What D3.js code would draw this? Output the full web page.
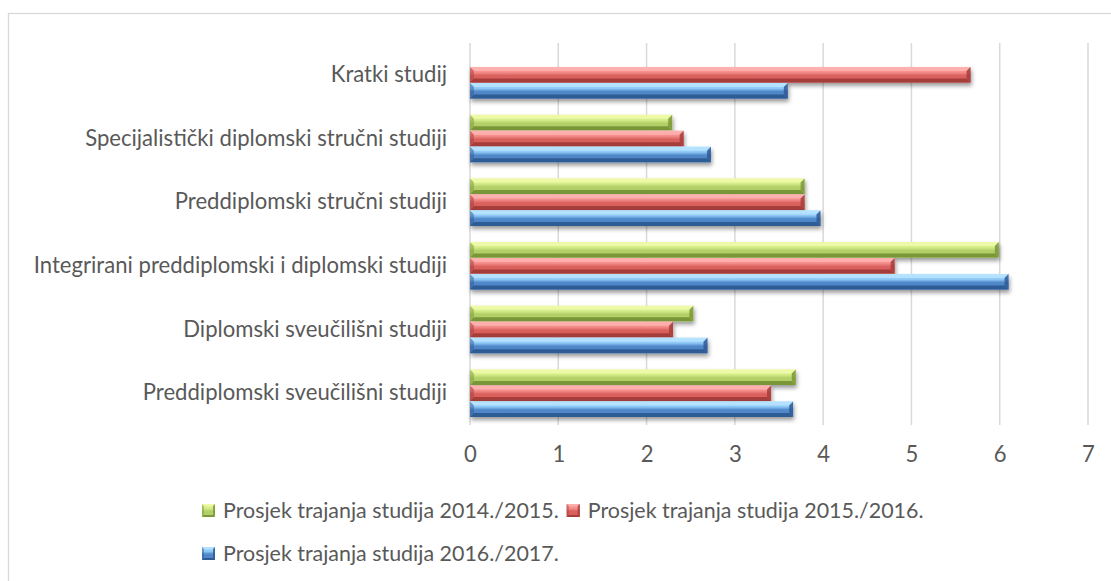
<!DOCTYPE html>
<html>
<head>
<meta charset="utf-8">
<script src="https://cdn.jsdelivr.net/npm/d3@7"></script>
<style>
  html, body { margin: 0; padding: 0; background: #fff; }
  svg { display: block; }
  text { font-family: Lato, "Open Sans", sans-serif; fill: #595959; }
</style>
</head>
<body>
<div id="chart"></div>
<script>
const CATEGORIES = [
  'Kratki studij',
  'Specijalistički diplomski stručni studiji',
  'Preddiplomski stručni studiji',
  'Integrirani preddiplomski i diplomski studiji',
  'Diplomski sveučilišni studiji',
  'Preddiplomski sveučilišni studiji'
];

const SERIES = [
  'Prosjek trajanja studija 2014./2015.',
  'Prosjek trajanja studija 2015./2016.',
  'Prosjek trajanja studija 2016./2017.'
];

// one value per category, same order as CATEGORIES
const VALUES_2014 = [null, 2.29, 3.79, 5.99, 2.53, 3.69];
const VALUES_2015 = [5.67, 2.42, 3.79, 4.81, 2.30, 3.41];
const VALUES_2016 = [3.60, 2.73, 3.97, 6.10, 2.69, 3.66];

const X_TICKS = [0, 1, 2, 3, 4, 5, 6, 7];

const COLORS = [
  { light: '#eefaa8', mid: '#b3cf68', dark: '#7a9739', edge: '#d2eb86' },
  { light: '#ffb0ae', mid: '#d9605d', dark: '#a53d3b', edge: '#f28a88' },
  { light: '#b5e2ff', mid: '#4f87c8', dark: '#2f5b94', edge: '#8cc6f5' }
];

const W = 1111, H = 581;
const plot = { left: 470, right: 1088, top: 43, bottom: 425 };
const FONT = 'Lato, "Open Sans", sans-serif';

const svg = d3.select('#chart').append('svg').attr('width', W).attr('height', H);
const defs = svg.append('defs');

const shadow = defs.append('filter').attr('id', 'shadow')
  .attr('x', '-5%').attr('y', '-40%').attr('width', '110%').attr('height', '200%');
shadow.append('feDropShadow').attr('dx', 1).attr('dy', 3).attr('stdDeviation', 2.2)
  .attr('flood-color', '#000').attr('flood-opacity', 0.4);

COLORS.forEach((c, i) => {
  const g = defs.append('linearGradient').attr('id', 'grad' + i)
    .attr('x1', 0).attr('y1', 0).attr('x2', 0).attr('y2', 1);
  g.append('stop').attr('offset', '0%').attr('stop-color', c.light);
  g.append('stop').attr('offset', '35%').attr('stop-color', c.edge);
  g.append('stop').attr('offset', '55%').attr('stop-color', c.mid);
  g.append('stop').attr('offset', '100%').attr('stop-color', c.mid);
});

// fit the font so the longest category label keeps its width
const probe = svg.append('text').attr('font-size', 20).text(CATEGORIES[1]);
const fontSize = 20 * 362 / probe.node().getComputedTextLength();
probe.remove();

// chart border
svg.append('rect')
  .attr('x', 8.5).attr('y', 13.5).attr('width', W + 10).attr('height', H + 10)
  .attr('fill', 'none').attr('stroke', '#d9d9d9').attr('stroke-width', 1.3);

const x = d3.scaleLinear().domain([0, 7]).range([plot.left, plot.right]);
const y = d3.scaleBand().domain(CATEGORIES).range([plot.top, plot.bottom])
  .paddingInner(0.24).paddingOuter(0.12);
const ys = d3.scaleBand().domain(d3.range(SERIES.length)).range([0, y.bandwidth()]).padding(0.03);

// gridlines
svg.append('g').selectAll('line').data(X_TICKS).enter().append('line')
  .attr('x1', d => x(d)).attr('x2', d => x(d))
  .attr('y1', plot.top).attr('y2', plot.bottom)
  .attr('stroke', '#d9d9d9').attr('stroke-width', 1.5);

// x axis labels
const xAxis = svg.append('g').attr('transform', `translate(0,${plot.bottom})`)
  .call(d3.axisBottom(x).tickValues(X_TICKS).tickSize(0).tickPadding(21).tickFormat(d3.format('d')));
xAxis.select('.domain').remove();
xAxis.selectAll('text').attr('font-size', fontSize).attr('fill', '#595959').attr('font-family', FONT);

// y axis labels
const yAxis = svg.append('g').attr('transform', `translate(${plot.left},0)`)
  .call(d3.axisLeft(y).tickSize(0).tickPadding(23));
yAxis.select('.domain').remove();
yAxis.selectAll('text').attr('font-size', fontSize).attr('fill', '#595959').attr('font-family', FONT);

// bars
const seriesValues = [VALUES_2014, VALUES_2015, VALUES_2016];
const barData = [];
CATEGORIES.forEach((cat, ci) => {
  seriesValues.forEach((vals, si) => {
    if (vals[ci] != null) barData.push({ cat, si, value: vals[ci] });
  });
});

function drawBevelBar(g, x0, y0, x1, h, c, fillId, b) {
  const y1 = y0 + h;
  g.append('rect').attr('x', x0).attr('y', y0).attr('width', x1 - x0).attr('height', h)
    .attr('fill', `url(#${fillId})`);
  g.append('polygon')
    .attr('points', [[x0, y0], [x1, y0], [x1 - b, y0 + b], [x0 + b, y0 + b]].join(' '))
    .attr('fill', c.light).attr('opacity', 0.9);
  g.append('polygon')
    .attr('points', [[x0 + b, y1 - b], [x1 - b, y1 - b], [x1, y1], [x0, y1]].join(' '))
    .attr('fill', c.dark);
  g.append('polygon')
    .attr('points', [[x1, y0], [x1, y1], [x1 - b, y1 - b], [x1 - b, y0 + b]].join(' '))
    .attr('fill', c.dark).attr('opacity', 0.85);
  g.append('polygon')
    .attr('points', [[x0, y0], [x0 + b, y0 + b], [x0 + b, y1 - b], [x0, y1]].join(' '))
    .attr('fill', c.dark).attr('opacity', 0.5);
}

const barsG = svg.append('g');
barData.forEach(d => {
  const g = barsG.append('g').attr('filter', 'url(#shadow)');
  drawBevelBar(g, x(0), y(d.cat) + ys(d.si), x(d.value), ys.bandwidth(), COLORS[d.si], 'grad' + d.si, 4);
});

// legend
const legend = svg.append('g');
const legendLeft = 202, legendMax = 960, rowH = 43;
const legendFont = fontSize * 0.97;
let lx = legendLeft, ly = 510;
SERIES.forEach((name, i) => {
  const item = legend.append('g');
  const t = item.append('text').attr('font-size', legendFont).attr('dominant-baseline', 'central')
    .attr('x', 21).attr('y', 0).text(name);
  const tw = t.node().getComputedTextLength();
  if (lx > legendLeft && lx + 21 + tw > legendMax) { lx = legendLeft; ly += rowH; }
  item.attr('transform', `translate(${lx},${ly})`);
  const m = item.append('g');
  m.append('rect').attr('x', 0).attr('y', -6).attr('width', 13).attr('height', 13)
    .attr('fill', COLORS[i].mid);
  drawBevelBar(m, 0, -6, 13, 13, COLORS[i], 'grad' + i, 2);
  lx += 21 + tw + 8;
});
</script>
</body>
</html>
